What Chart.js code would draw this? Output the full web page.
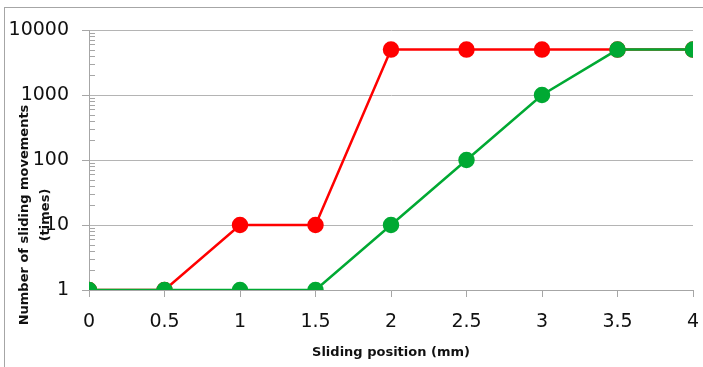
<!DOCTYPE html>
<html>
<head>
<meta charset="utf-8">
<script src="https://cdn.jsdelivr.net/npm/chart.js@4.4.1/dist/chart.umd.min.js"></script>
<style>
  html, body { margin: 0; padding: 0; background: #fff; overflow: hidden; }
  #frame { position: absolute; left: 4px; top: 7px; width: 760px; height: 420px; border: 1px solid #a6a6a6; }
  #wrap { position: absolute; left: 0; top: 0; width: 703px; height: 367px; }
</style>
</head>
<body>
<div id="frame"></div>
<div id="wrap"><canvas id="chart" width="703" height="367"></canvas></div>
<script>
// sliding position (mm)
const positions = [0, 0.5, 1, 1.5, 2, 2.5, 3, 3.5, 4];
// number of sliding movements (times)
const redSeries = [1, 1, 10, 10, 5000, 5000, 5000, 5000, 5000];
const greenSeries = [1, 1, 1, 1, 10, 100, 1000, 5000, 5000];
const yMajorTicks = [1, 10, 100, 1000, 10000];
const yTitleLines = ['Number of sliding movements', '(times)'];
const xTitle = 'Sliding position (mm)';

const toPoints = (vals) => positions.map((x, i) => ({ x: x, y: vals[i] }));

// minor log ticks drawn just right of the y axis line
const minorTicks = {
    id: 'minorTicks',
    afterDraw(chart) {
        const y = chart.scales.y;
        const ctx = chart.ctx;
        ctx.save();
        ctx.strokeStyle = '#a6a6a6';
        ctx.lineWidth = 1;
        for (let d = 1; d < 10000; d *= 10) {
            for (let m = 2; m <= 9; m++) {
                const py = Math.round(y.getPixelForValue(d * m)) + 0.5;
                ctx.beginPath();
                ctx.moveTo(chart.chartArea.left, py);
                ctx.lineTo(chart.chartArea.left + 6, py);
                ctx.stroke();
            }
        }
        ctx.restore();
    }
};

// y axis title, two rotated lines
const yTitle = {
    id: 'yTitle',
    afterDraw(chart) {
        const ctx = chart.ctx;
        ctx.save();
        ctx.font = 'bold 13px "DejaVu Sans"';
        ctx.fillStyle = '#111';
        ctx.textAlign = 'center';
        ctx.textBaseline = 'middle';
        ctx.translate(25, 215);
        ctx.rotate(-Math.PI / 2);
        ctx.fillText(yTitleLines[0], 0, 0);
        ctx.fillText(yTitleLines[1], 0, 21);
        ctx.restore();
    }
};

const config = {
    type: 'line',
    data: {
        datasets: [{
            label: 'red',
            data: toPoints(redSeries),
            borderColor: '#ff0000',
            backgroundColor: '#ff0000',
            pointBorderColor: '#ff0000',
            borderWidth: 2.5,
            pointRadius: 7,
            order: 2
        }, {
            label: 'green',
            data: toPoints(greenSeries),
            borderColor: '#00a933',
            backgroundColor: '#00a933',
            pointBorderColor: '#00a933',
            borderWidth: 2.5,
            pointRadius: 7,
            order: 1
        }]
    },
    options: {
        responsive: false,
        animation: false,
        layout: {
            padding: { top: 30, right: 10, bottom: 0, left: 0 }
        },
        plugins: {
            legend: { display: false },
            tooltip: { enabled: false }
        },
        scales: {
            x: {
                type: 'linear',
                min: 0,
                max: 4,
                afterBuildTicks: (scale) => { scale.ticks = positions.map(v => ({ value: v })); },
                afterFit: (scale) => {
                    scale.height = 77;
                    scale.paddingLeft = 0;
                    scale.paddingRight = 0;
                },
                ticks: {
                    font: { family: 'DejaVu Sans', size: 19 },
                    color: '#111',
                    padding: 14,
                    maxRotation: 0,
                    callback: (v) => String(v)
                },
                grid: {
                    drawOnChartArea: false,
                    drawTicks: true,
                    tickLength: 7,
                    tickColor: '#a6a6a6'
                },
                border: { color: '#a6a6a6', width: 1 },
                title: {
                    display: true,
                    text: xTitle,
                    font: { family: 'DejaVu Sans', size: 13, weight: 'bold' },
                    color: '#111',
                    padding: { top: 0, bottom: 7 }
                }
            },
            y: {
                type: 'logarithmic',
                min: 1,
                max: 10000,
                afterBuildTicks: (scale) => { scale.ticks = yMajorTicks.map(v => ({ value: v })); },
                afterFit: (scale) => { scale.width = 89; },
                ticks: {
                    font: { family: 'DejaVu Sans', size: 19 },
                    color: '#111',
                    padding: 13,
                    callback: (v) => String(v)
                },
                grid: {
                    color: '#b4b4b4',
                    tickColor: '#a6a6a6',
                    tickLength: 7
                },
                border: { color: '#a6a6a6', width: 1 }
            }
        }
    },
    plugins: [minorTicks, yTitle]
};

var chart = document.getElementById('chart');
var myChart = new Chart(chart, config);
</script>
</body>
</html>
